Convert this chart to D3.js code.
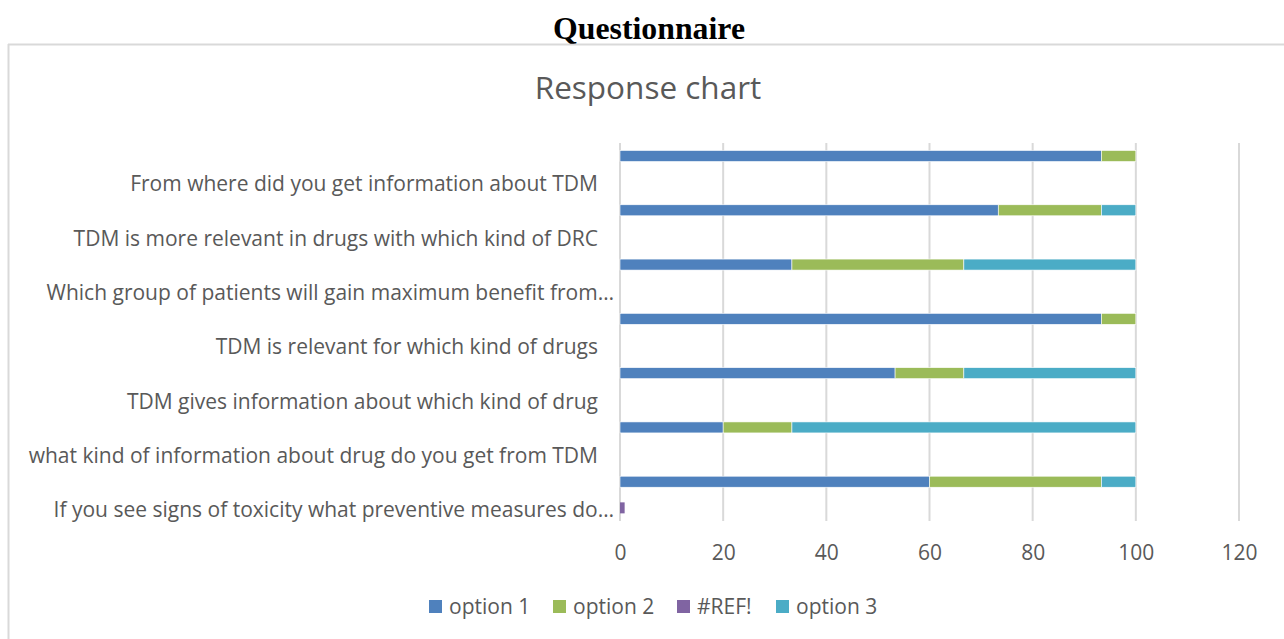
<!DOCTYPE html>
<html><head><meta charset="utf-8">
<script src="https://cdn.jsdelivr.net/npm/d3@7"></script>
<style>body{margin:0;background:#fff}</style>
</head><body>
<svg id="c" width="1284" height="639"></svg>
<script>
const categories = [
  "From where did you get information about TDM",
  "TDM is more relevant in drugs with which kind of DRC",
  "Which group of patients will gain maximum benefit from…",
  "TDM is relevant for which kind of drugs",
  "TDM gives information about which kind of drug",
  "what kind of information about drug do you get from TDM",
  "If you see signs of toxicity what preventive measures do…"
];
const option1 = [93.33, 73.33, 33.33, 93.33, 53.33, 20, 60];
const option2 = [6.67, 20, 33.33, 6.67, 13.33, 13.33, 33.33];
const option3 = [0, 6.67, 33.34, 0, 33.34, 66.67, 6.67];
const refErr  = [0, 0, 0, 0, 0, 0, 0.9];
const xTicks = [0, 20, 40, 60, 80, 100, 120];
const seriesNames = ["option 1", "option 2", "#REF!", "option 3"];
const colors = {"option 1":"#4f81bd","option 2":"#9bbb59","#REF!":"#8064a2","option 3":"#4bacc6"};

const svg = d3.select("#c");
const font = "'Open Sans', Lato, sans-serif";
const grey = "#595959";
const fs = 21;

// outer frame
svg.append("line").attr("x1",8).attr("x2",1284).attr("y1",44.5).attr("y2",44.5).attr("stroke","#d9d9d9").attr("stroke-width",2);
svg.append("line").attr("x1",8.5).attr("x2",8.5).attr("y1",44).attr("y2",639).attr("stroke","#d9d9d9").attr("stroke-width",2);

svg.append("text").attr("x",649).attr("y",39).attr("text-anchor","middle")
  .attr("font-family","'Liberation Serif', serif").attr("font-weight","bold").attr("font-size",31)
  .attr("textLength",192).attr("lengthAdjust","spacingAndGlyphs")
  .text("Questionnaire");
svg.append("text").attr("x",648).attr("y",99).attr("text-anchor","middle")
  .attr("font-family",font).attr("font-size",31.5).attr("fill",grey).text("Response chart");

const x = d3.scaleLinear().domain([0,120]).range([620,1239]);
const y = d3.scaleBand().domain(categories).range([156,536]);
const gTop = 143, gBot = 521;

// gridlines
svg.append("g").selectAll("line").data(xTicks).join("line")
  .attr("x1",d=>x(d)).attr("x2",d=>x(d)).attr("y1",gTop).attr("y2",gBot)
  .attr("stroke","#d9d9d9").attr("stroke-width",2);

// x axis labels
const xAxis = d3.axisBottom(x).tickValues(xTicks).tickSize(0).tickPadding(0);
const gx = svg.append("g").attr("transform",`translate(0,${gBot+24})`).call(xAxis);
gx.select(".domain").remove();
gx.selectAll("text").attr("font-family",font).attr("font-size",fs).attr("fill",grey);

// category labels
svg.append("g").selectAll("text").data(categories).join("text")
  .attr("x",d=>d.endsWith("…") ? 614 : 598).attr("y",d=>y(d)+y.bandwidth()/2+1).attr("dy","0.35em")
  .attr("text-anchor","end").attr("font-family",font).attr("font-size",fs).attr("fill",grey)
  .text(d=>d);

// stacked bars
const rows = categories.map((c,i)=>({cat:c,"option 1":option1[i],"option 2":option2[i],"option 3":option3[i]}));
const stack = d3.stack().keys(["option 1","option 2","option 3"])(rows);
const bh = 11;
svg.append("g").selectAll("g").data(stack).join("g").attr("fill",s=>colors[s.key])
  .selectAll("rect").data(s=>s).join("rect")
  .attr("x",d=>x(d[0])).attr("width",d=>Math.max(0,x(d[1])-x(d[0])))
  .attr("y",d=>y(d.data.cat)-bh/2).attr("height",bh)
  .attr("stroke","#fff").attr("stroke-width",0.6);

// #REF! bars
svg.append("g").selectAll("rect").data(categories.map((c,i)=>({cat:c,v:refErr[i]}))).join("rect")
  .attr("x",x(0)).attr("width",d=>x(d.v)-x(0))
  .attr("y",d=>y(d.cat)+y.bandwidth()/2-bh/2-1).attr("height",bh)
  .attr("fill",colors["#REF!"]);

// legend
const legX = [429, 553, 677, 776];
const lg = svg.append("g").selectAll("g").data(seriesNames).join("g")
  .attr("transform",(d,i)=>`translate(${legX[i]},600)`);
lg.append("rect").attr("width",13).attr("height",13).attr("fill",d=>colors[d]);
lg.append("text").attr("x",20).attr("y",7).attr("dy","0.35em")
  .attr("font-family",font).attr("font-size",fs).attr("fill",grey).text(d=>d);
</script>
</body></html>
